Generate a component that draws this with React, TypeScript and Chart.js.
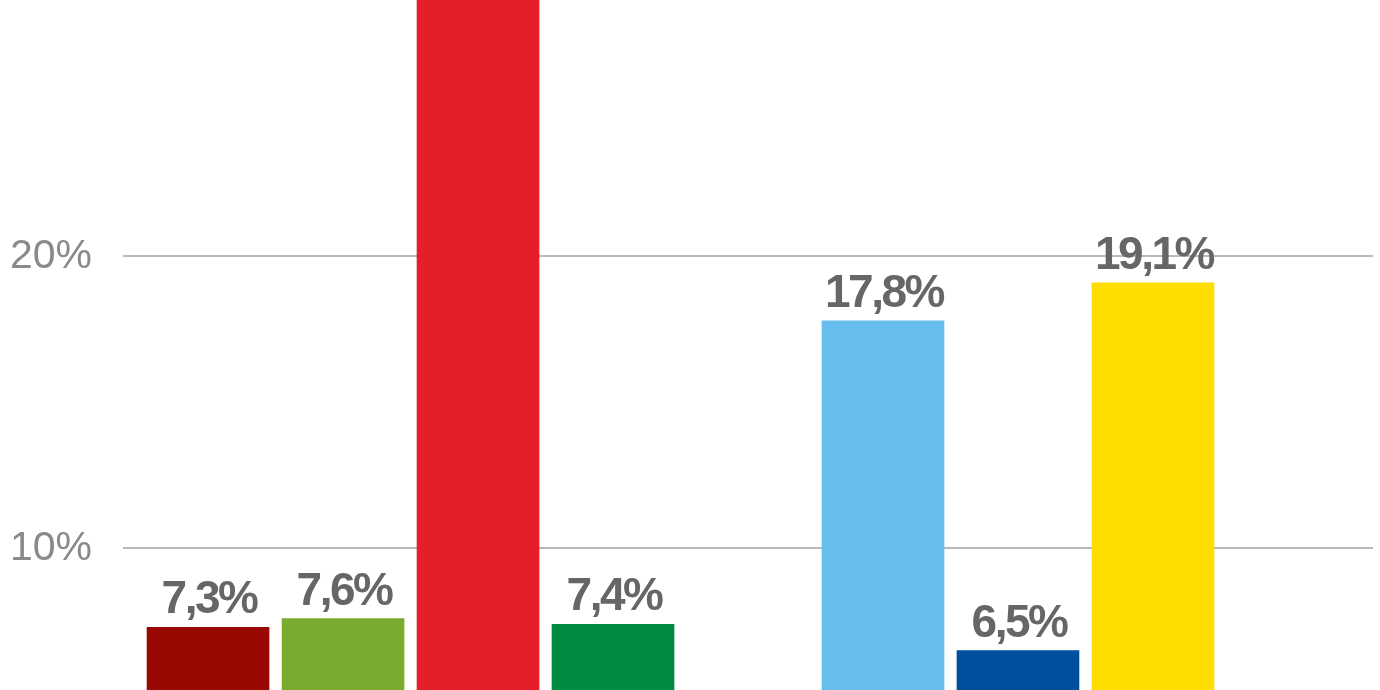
import React, { useEffect, useRef } from "react";
import { Chart, registerables } from "chart.js";

Chart.register(...registerables);

const categories = ["1", "2", "3", "4", "5", "6", "7", "8", "9"];
const values: (number | null)[] = [7.3, 7.6, 32.0, 7.4, null, 17.8, 6.5, 19.1, null];
const colors = ["#990903", "#7aab2e", "#e51f2a", "#008b42", "#cccccc", "#66bdee", "#004f9e", "#ffdd00", "#cccccc"];
const yTicks = [10, 20];

const labelPlugin = {
  id: "valueLabels",
  afterDatasetsDraw(chart: any) {
    const ctx = chart.ctx;
    const meta = chart.getDatasetMeta(0);
    ctx.save();
    ctx.font = "bold 46px 'Liberation Sans', Arial, sans-serif";
    (ctx as any).letterSpacing = "-2.5px";
    ctx.fillStyle = "#666666";
    ctx.textAlign = "center";
    ctx.textBaseline = "alphabetic";
    meta.data.forEach((bar: any, i: number) => {
      const v = values[i];
      if (v === null || v === undefined) return;
      const txt = v.toFixed(1).replace(".", ",") + "%";
      ctx.fillText(txt, bar.x + 1, bar.y - 14);
    });
    ctx.restore();
  },
};

export default function App() {
  const ref = useRef<HTMLCanvasElement | null>(null);
  useEffect(() => {
    if (!ref.current) return;
    const chart = new Chart(ref.current, {
      type: "bar",
      data: {
        datasets: [
          {
            data: values.map((v, i) => ({ x: i + 1, y: v })) as any,
            backgroundColor: colors,
            borderWidth: 0,
            barThickness: 122,
          },
        ],
        labels: categories,
      },
      options: {
        animation: false,
        responsive: false,
        layout: { padding: { left: 0, right: 7, top: 0, bottom: 0 } },
        plugins: { legend: { display: false }, tooltip: { enabled: false } },
        scales: {
          x: {
            type: "linear",
            offset: false,
            min: 0.37,
            max: 9.63,
            display: false,
          },
          y: {
            min: 5.154,
            max: 28.784,
            afterFit: (scale: any) => {
              scale.width = 123;
              scale.paddingTop = 0;
              scale.paddingBottom = 0;
            },
            afterBuildTicks: (scale: any) => {
              scale.ticks = yTicks.map((v) => ({ value: v }));
            },
            border: { display: false },
            grid: { color: "#b9b9b9", lineWidth: 2, drawTicks: false },
            ticks: {
              padding: 31,
              color: "#8a8a8a",
              font: { family: "'Liberation Sans', Arial, sans-serif", size: 41 },
              callback: (v: any) => v + "%",
            },
          },
        },
      },
      plugins: [labelPlugin],
    });
    return () => chart.destroy();
  }, []);
  return (
    <div style={{ position: "absolute", left: 0, top: 0, width: 1380, height: 690, background: "#fff" }}>
      <canvas ref={ref} width={1380} height={690} />
    </div>
  );
}
